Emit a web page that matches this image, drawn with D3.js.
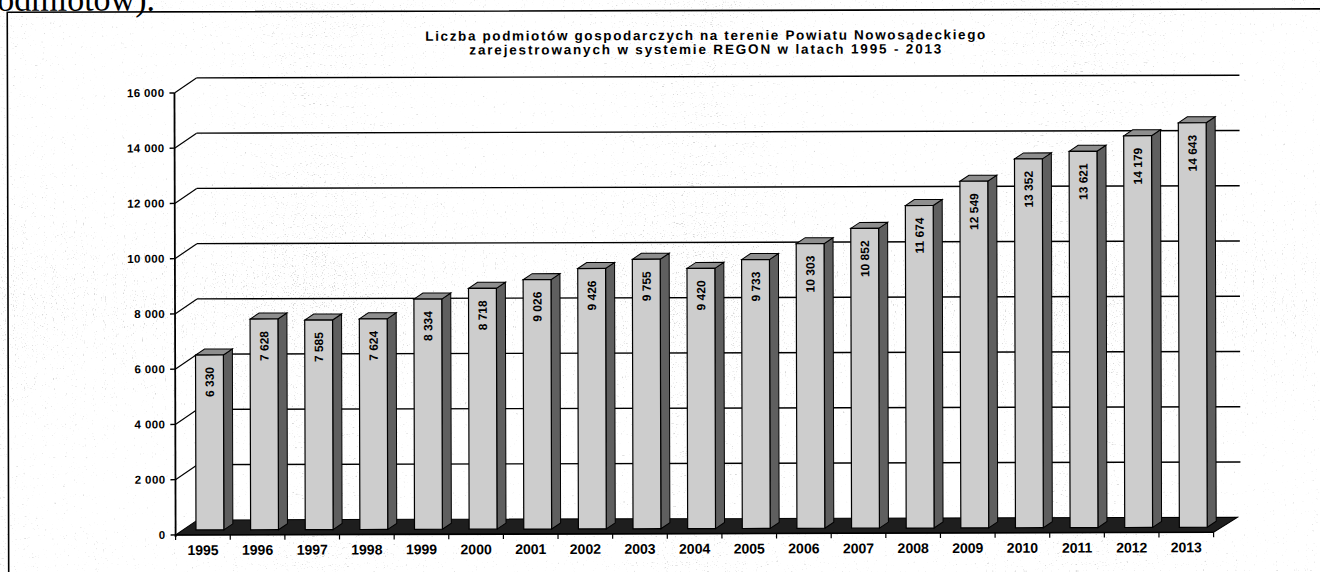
<!DOCTYPE html>
<html>
<head>
<meta charset="utf-8">
<script src="https://cdn.jsdelivr.net/npm/d3@7"></script>
<style>
  body { margin: 0; background: #fff; overflow: hidden; }
  text { font-family: "Liberation Sans", Arial, sans-serif; }
</style>
</head>
<body>
<svg id="chart" width="1320" height="572"></svg>
<script>
// data
const years = ["1995","1996","1997","1998","1999","2000","2001","2002","2003","2004",
               "2005","2006","2007","2008","2009","2010","2011","2012","2013"];
const firms = [6330, 7628, 7585, 7624, 8334, 8718, 9026, 9426, 9755, 9420,
               9733, 10303, 10852, 11674, 12549, 13352, 13621, 14179, 14643];
const yTicks = [0, 2000, 4000, 6000, 8000, 10000, 12000, 14000, 16000];
const titleLines = ["Liczba podmiotów gospodarczych na terenie Powiatu Nowosądeckiego",
                    "zarejestrowanych w systemie REGON  w latach 1995 - 2013"];
const pageText = "podmiotów).";

const svg = d3.select("#chart");
const W = 1320, H = 572;

// scanned page texture (little gray specks)
const defs = svg.append("defs");
const f = defs.append("filter").attr("id", "speck")
    .attr("x", 0).attr("y", 0).attr("width", "100%").attr("height", "100%");
f.append("feTurbulence").attr("type", "fractalNoise")
    .attr("baseFrequency", 0.9).attr("numOctaves", 2).attr("seed", 3);
f.append("feColorMatrix").attr("type", "matrix")
    .attr("values", "0 0 0 0 0.4  0 0 0 0 0.4  0 0 0 0 0.4  7 0 0 0 -4.2");

// whole scan is tilted a hair
const page = svg.append("g").attr("transform", "rotate(-0.15,700,300)");

page.append("rect").attr("width", W).attr("height", H).attr("fill", "#fff");
page.append("rect").attr("width", W).attr("height", H).attr("filter", "url(#speck)").attr("opacity", 0.45);

// piece of the document text above the frame
page.append("text").attr("x", -19).attr("y", 9)
    .style("font-family", '"Liberation Serif","Times New Roman",serif')
    .style("font-size", "34px")
    .text(pageText);

// frame
page.append("path")
    .attr("d", "M8,572 V10.5 H1322")
    .attr("fill", "none").attr("stroke", "#000").attr("stroke-width", 1.6);

// geometry
const x0 = 175, x1 = 1213;
const wall = { dx: 22, dy: -15 };     // depth of the back wall
const barOff = { dx: 7, dy: -5 };     // where the bar front sits on the floor
const barDepth = { dx: 9, dy: -6 };

const x = d3.scaleBand().domain(years).range([x0, x1]).padding(0);
const y = d3.scaleLinear().domain([0, 16000]).range([533.6, 91.6]);
const bw = x.bandwidth() * 0.51;

const fmt = d3.formatLocale({ decimal: ",", thousands: " ", grouping: [3], currency: ["", ""] }).format(",");

// title
const title = page.append("text")
    .attr("text-anchor", "middle")
    .style("font-weight", "bold").style("font-size", "13.5px");
title.selectAll("tspan").data(titleLines).enter().append("tspan")
    .attr("x", 706)
    .attr("y", (d, i) => 40 + i * 14)
    .attr("textLength", (d, i) => i === 0 ? 560 : 472)
    .attr("lengthAdjust", "spacing")
    .text(d => d);

// back wall grid lines
const grid = yTicks.filter(d => d > 0);
page.append("g").selectAll("line").data(grid).enter().append("line")
    .attr("x1", x0 + wall.dx).attr("x2", x1 + wall.dx + 5)
    .attr("y1", d => y(d) + wall.dy).attr("y2", d => y(d) + wall.dy)
    .attr("stroke", "#000").attr("stroke-width", 1.4);

// side wall diagonals
page.append("g").selectAll("line").data(grid).enter().append("line")
    .attr("x1", x0).attr("x2", x0 + wall.dx)
    .attr("y1", d => y(d)).attr("y2", d => y(d) + wall.dy)
    .attr("stroke", "#000").attr("stroke-width", 1.2);

// floor
const y0 = y(0);
page.append("path")
    .attr("d", `M${x0},${y0} L${x0 + wall.dx},${y0 + wall.dy} L${x1 + wall.dx + 2},${y0 + wall.dy} L${x1},${y0} Z`)
    .attr("fill", "#1e1e1e").attr("stroke", "#000");

// bars
const bars = page.append("g").selectAll("g").data(years.map((d, i) => ({ year: d, v: firms[i] })))
    .enter().append("g");

const fx = d => x(d.year) + (x.bandwidth() - bw) / 2 + barOff.dx;
const fb = y0 + barOff.dy;
const ft = d => y(d.v) + barOff.dy;

bars.append("path")   // side
    .attr("d", d => {
        const a = fx(d) + bw, t = ft(d);
        return `M${a},${t} l${barDepth.dx},${barDepth.dy} L${a + barDepth.dx},${fb + barDepth.dy} L${a},${fb} Z`;
    })
    .attr("fill", "#5f5f5f").attr("stroke", "#000").attr("stroke-width", 1);
bars.append("path")   // top
    .attr("d", d => {
        const a = fx(d), t = ft(d);
        return `M${a},${t} l${barDepth.dx},${barDepth.dy} h${bw} l${-barDepth.dx},${-barDepth.dy} Z`;
    })
    .attr("fill", "#8e8e8e").attr("stroke", "#000").attr("stroke-width", 1);
bars.append("rect")   // front
    .attr("x", fx).attr("y", ft)
    .attr("width", bw).attr("height", d => fb - ft(d))
    .attr("fill", "#cdcdcd").attr("stroke", "#000").attr("stroke-width", 1.2);

bars.append("text")
    .attr("transform", d => `translate(${fx(d) + bw / 2},${ft(d) + 12}) rotate(-90)`)
    .attr("text-anchor", "end").attr("dy", "0.36em")
    .style("font-weight", "bold").style("font-size", "12px")
    .text(d => fmt(d.v));

// y axis
page.append("line")
    .attr("x1", x0).attr("x2", x0).attr("y1", y(16000)).attr("y2", y0 + 2)
    .attr("stroke", "#000").attr("stroke-width", 1.8);
const yax = page.append("g").selectAll("g").data(yTicks).enter().append("g")
    .attr("transform", d => `translate(${x0},${y(d)})`);
yax.append("line").attr("x1", -5).attr("x2", 0).attr("stroke", "#000").attr("stroke-width", 1.3);
yax.append("text").attr("x", -10).attr("dy", "0.35em").attr("text-anchor", "end")
    .style("font-weight", "bold").style("font-size", "11.5px").style("letter-spacing", "0.4px")
    .text(d => fmt(d));

// x axis
page.append("line")
    .attr("x1", x0).attr("x2", x1).attr("y1", y0).attr("y2", y0)
    .attr("stroke", "#000").attr("stroke-width", 1.6);
page.append("g").selectAll("line").data(years.concat(["end"])).enter().append("line")
    .attr("x1", d => d === "end" ? x1 : x(d)).attr("x2", d => d === "end" ? x1 : x(d))
    .attr("y1", y0).attr("y2", y0 + 5)
    .attr("stroke", "#000").attr("stroke-width", 1.2);
page.append("g").selectAll("text").data(years).enter().append("text")
    .attr("x", d => x(d) + x.bandwidth() / 2).attr("y", y0 + 20)
    .attr("text-anchor", "middle")
    .style("font-weight", "bold").style("font-size", "14px")
    .text(d => d);
</script>
</body>
</html>
